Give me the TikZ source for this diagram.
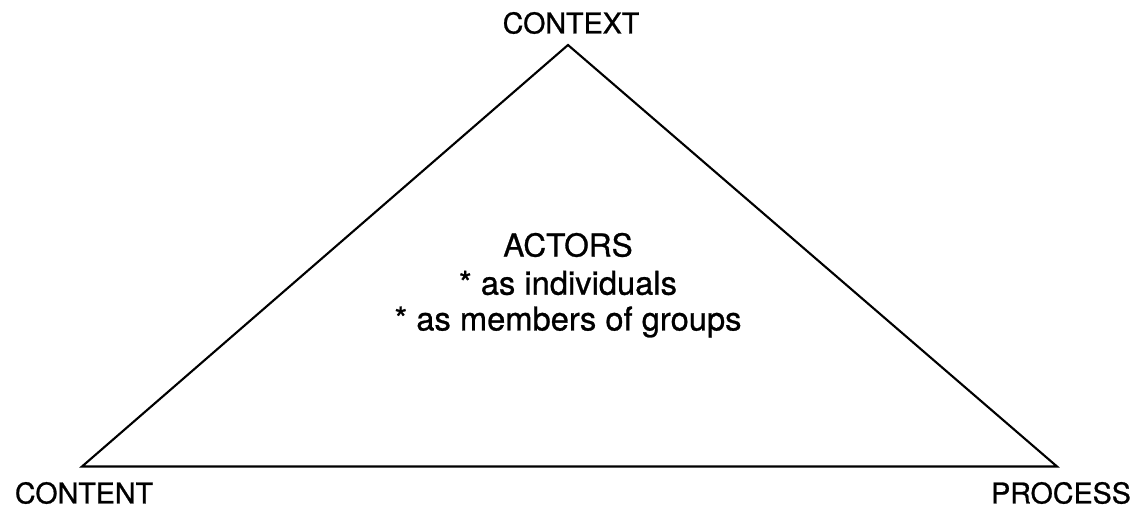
\documentclass[tikz,border=0pt]{standalone}
\usepackage{fontspec}
\setmainfont{TeX Gyre Heros}
\newfontfamily\scanfont[FakeBold=0.8]{TeX Gyre Heros}
\usepackage{tikz}
\usetikzlibrary{positioning}
\tikzstyle{corner} = [inner sep=0pt, font=\scanfont\fontsize{16.3}{19}\selectfont]
\tikzstyle{actor} = [align=center, inner sep=0pt, font=\scanfont\fontsize{18.6}{22}\selectfont]

\begin{document}
\begin{tikzpicture}[line width=1.2pt, line join=miter]
  \useasboundingbox (0,0) rectangle (22.76,10.24);
  \coordinate (top) at (11.36,9.34);
  \coordinate (left) at (1.64,0.91);
  \coordinate (right) at (21.14,0.91);
  \draw (left) -- (top) -- (right) -- cycle;
  \node [corner] (context) at (11.42,9.78) {CONTEXT};
  \node [corner] (content) at (1.68,0.38) {CONTENT};
  \node [corner] (process) at (21.22,0.38) {PROCESS};
  \node [actor, font=\scanfont\fontsize{18}{22}\selectfont] (actors) at (11.36,5.34) {ACTORS};
  \node [actor, below=0.76cm of actors.center, anchor=center] (indiv) {* as individuals};
  \node [actor, below=0.78cm of indiv.center, anchor=center] (groups) {* as members of groups};
\end{tikzpicture}
\end{document}
